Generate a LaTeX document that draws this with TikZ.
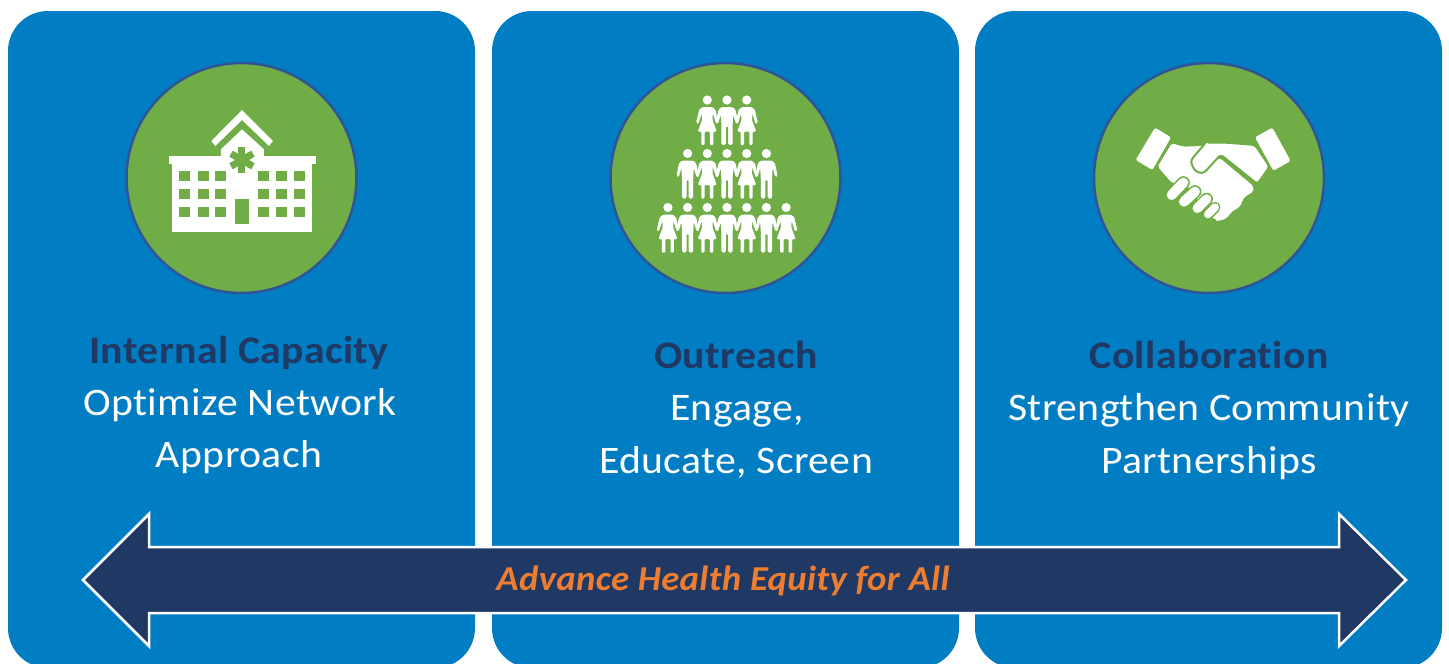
\documentclass[tikz,border=0pt]{standalone}
\usepackage{fontspec}
\setmainfont{Carlito}[FakeStretch=1.07,LetterSpace=1,Ligatures=NoCommon]
\newfontfamily\bannerfont{Carlito}[FakeStretch=1.05,LetterSpace=1,Ligatures=NoCommon]
\definecolor{panelblue}{HTML}{007DC3}
\definecolor{leaf}{HTML}{70AD47}
\definecolor{navy}{HTML}{1F3864}
\definecolor{ringblue}{HTML}{2F5597}
\definecolor{flame}{HTML}{ED7D31}
\tikzset{
  panel/.style={fill=panelblue,draw=none,rounded corners=40pt},
  disc/.style={circle,fill=leaf,draw=ringblue,line width=2.5pt,minimum size=230pt,inner sep=0pt},
  head/.style={font=\fontsize{39}{44}\selectfont\bfseries,text=navy,anchor=base,inner sep=0pt},
  body/.style={font=\fontsize{39}{44}\selectfont,text=white,anchor=base,inner sep=0pt},
  banner/.style={font=\bannerfont\fontsize{35}{40}\selectfont\bfseries\itshape,text=flame,anchor=base,inner sep=0pt},
  glyph/.style={fill=white,draw=none},
  hole/.style={fill=leaf,draw=none},
  man/.pic={
    \fill[white] (0,0) circle (4.6);
    \fill[white,rounded corners=1.5pt] (-5.5,7) -- (5.5,7) -- (8.5,9.5) -- (11.2,22.5) -- (9,24) -- (6.2,14.5) -- (5.6,25) -- (5.6,45) -- (1.1,45) -- (1.1,26) -- (-1.1,26) -- (-1.1,45) -- (-5.6,45) -- (-5.6,25) -- (-6.2,14.5) -- (-9,24) -- (-11.2,22.5) -- (-8.5,9.5) -- cycle;
  },
  woman/.pic={
    \fill[white] (0,0) circle (4.6);
    \fill[white,rounded corners=1pt] (-4.5,7) -- (4.5,7) -- (8,9.5) -- (11.2,22.5) -- (9,24) -- (5.5,13.5) -- (5.2,20) -- (9.5,31.5) -- (6,31.5) -- (6,45) -- (2.6,45) -- (2.6,31.5) -- (-2.6,31.5) -- (-2.6,45) -- (-6,45) -- (-6,31.5) -- (-9.5,31.5) -- (-5.2,20) -- (-5.5,13.5) -- (-9,24) -- (-11.2,22.5) -- (-8,9.5) -- cycle;
  },
}
\begin{document}
\begin{tikzpicture}[x=1pt,y=-1pt]
\useasboundingbox (0,0) rectangle (1449,664);
\clip (0,0) rectangle (1449,664);
\fill[white] (0,0) rectangle (1449,664);
% panels
\fill[panel] (8,11) rectangle (475,668);
\fill[panel] (492,11) rectangle (959,668);
\fill[panel] (975,11) rectangle (1442,668);
% discs
\node[disc] (d1) at (241.5,178) {};
\node[disc] (d2) at (725.5,178) {};
\node[disc] (d3) at (1209,178) {};
% hospital
\begin{scope}[shift={(120,60)},x=0.3333pt,y=-0.3333pt]
  \fill[glyph] (274,243) -- (366,150) -- (459,243) -- (447,258) -- (366,180) -- (286,258) -- cycle;
  \fill[glyph] (303,290) -- (303,268) -- (366,208) -- (432,268) -- (432,290) -- cycle;
  \fill[glyph] (146,288) rectangle (587,311);
  \fill[glyph] (157,311) rectangle (577,516);
  \foreach \yy in {332,386,440} \foreach \xx/\xe in {178/211,233/266,286/318,415/448,469/502,522/554}
    \fill[hole] (\xx,\yy) rectangle (\xe,\yy+32);
  \fill[hole] (345,418) rectangle (388,493);
  \foreach \a in {90,30,-30}
    \draw[leaf,line width=7pt] (366,300) ++(\a:38) -- ++(\a+180:76);
\end{scope}
% people
\begin{scope}[shift={(727,100)},x=1pt,y=-1pt]
  \foreach \i/\k in {-1/woman,0/man,1/woman} \pic at (\i*19.7,0) {\k};
  \foreach \i/\k in {-2/man,-1/woman,0/man,1/woman,2/man} \pic at (\i*19.7,53.5) {\k};
  \foreach \i/\k in {-3/woman,-2/man,-1/woman,0/man,1/woman,2/man,3/woman} \pic at (\i*19.7,107.5) {\k};
\end{scope}
% handshake
\begin{scope}[shift={(1120,110)},x=0.3333pt,y=-0.3333pt]
  \fill[glyph,rounded corners=1.5pt] (47,150) -- (105,53) -- (153,82) -- (97,180) -- cycle;
  \fill[glyph,rounded corners=1.5pt] (405,82) -- (457,53) -- (512,153) -- (460,182) -- cycle;
  \fill[glyph,rounded corners=2pt] (113,170) -- (155,100) -- (190,110) -- (250,108) -- (240,180) -- (298,143) -- (400,228) -- (400,245) -- (372,262) -- (360,290) -- (335,305) -- (320,325) -- (295,332) -- (275,322) -- (200,225) -- (155,218) -- cycle;
  \foreach \xa/\ya/\xb/\yb/\w in {155/255/190/218/10,192/275/225/245/10,232/295/260/267/9.5,264/313/285/292/8}{
    \draw[leaf,line width=\w pt+3pt,line cap=round] (\xa,\ya) -- (\xb,\yb);
    \draw[white,line width=\w pt,line cap=round] (\xa,\ya) -- (\xb,\yb);
  }
  \fill[white,rounded corners=2pt] (300,322) -- (285,332) -- (295,333) -- (320,325) -- cycle;
  \filldraw[fill=white,draw=leaf,line width=2pt,rounded corners=3pt] (258,98) -- (320,98) -- (405,105) -- (449,170) -- (412,222) -- (302,134) -- (262,178) .. controls (245,195) and (225,185) .. (216,165) .. controls (212,150) and (225,135) .. (258,98) -- cycle;
\end{scope}
% double arrow
\path[fill=navy,draw=white,line width=2.5pt,miter limit=10] (83,580) -- (149,514) -- (149,547) -- (1339,547) -- (1339,514) -- (1406,580) -- (1339,646) -- (1339,613) -- (149,613) -- (149,646) -- cycle;
% texts
\node[head] (t1a) at (239,363) {Internal Capacity};
\node[body] (t1b) at (240,415) {Optimize Network};
\node[body] (t1c) at (239,467) {Approach};
\node[head] (t2a) at (736,368) {Outreach};
\node[body] (t2b) at (737,420) {Engage,};
\node[body] (t2c) at (736,473) {Educate, Screen};
\node[head] (t3a) at (1209,368) {Collaboration};
\node[body] (t3b) at (1209,420) {Strengthen Community};
\node[body] (t3c) at (1209,473) {Partnerships};
\node[banner] (b) at (723,590) {Advance Health Equity for All};
\end{tikzpicture}
\end{document}
